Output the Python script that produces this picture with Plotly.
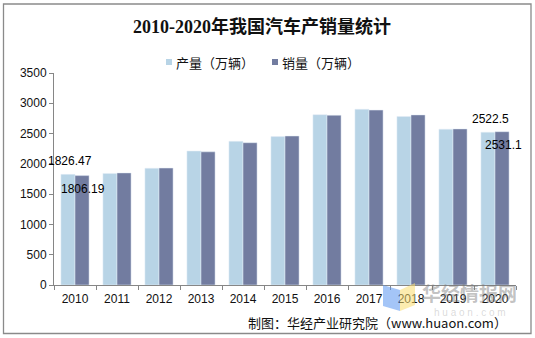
import plotly.graph_objects as go

# 2010-2020 China vehicle production and sales (10k units)
years = ["2010", "2011", "2012", "2013", "2014", "2015", "2016", "2017", "2018", "2019", "2020"]
production = [1826.47, 1841.89, 1927.18, 2211.68, 2372.29, 2450.33, 2811.88, 2901.54, 2780.92, 2572.1, 2522.5]
sales = [1806.19, 1850.51, 1930.64, 2198.41, 2349.19, 2459.76, 2802.82, 2887.89, 2808.06, 2576.9, 2531.1]
series_names = ["产量（万辆）", "销量（万辆）"]
series_colors = ["#B8D4E6", "#727CA0"]
labelled_years = ["2010", "2020"]

W, H = 535, 338
L, R, T, B = 54, 516, 73, 285  # plot area in pixels


def px(x):
    return (x - L) / (R - L)


def py(y):
    return (B - y) / (B - T)


CJK = "Noto Sans CJK SC, Liberation Sans, sans-serif"
fig = go.Figure()
for name, vals, color in zip(series_names, [production, sales], series_colors):
    fig.add_trace(go.Bar(x=years, y=vals, name=name, marker_color=color))

annotations = []
for yr in labelled_years:
    i = years.index(yr)
    # category index as x so the label sits on its group
    annotations.append(dict(x=i, y=production[i], text=f"{production[i]:g}", showarrow=False,
                            xanchor="center", yanchor="middle", xshift=-5, yshift=13,
                            font=dict(family="Liberation Sans", size=12, color="#000")))
    annotations.append(dict(x=i, y=sales[i], text=f"{sales[i]:g}", showarrow=False,
                            xanchor="center", yanchor="middle", xshift=8, yshift=-13,
                            font=dict(family="Liberation Sans", size=12, color="#000")))


def text_at(x, y, text, size, family=CJK, color="#111", anchor="center"):
    annotations.append(dict(xref="paper", yref="paper", x=px(x), y=py(y), text=text, showarrow=False,
                            xanchor=anchor, yanchor="middle", font=dict(family=family, size=size, color=color)))


# title and source
text_at(262, 27, "<b>2010-2020年我国汽车产销量统计</b>", 18, family="Liberation Serif, Noto Sans CJK SC")
text_at(509, 322, "制图：华经产业研究院（www.huaon.com）", 13, anchor="right")

# watermark
text_at(469, 292, "<b>华经情报网</b>", 19, color="rgba(120,120,120,0.45)")
text_at(470, 312, "h u a o n . c o m", 10, family="Liberation Sans", color="rgba(150,150,150,0.35)")

shapes = [
    dict(type="rect", xref="paper", yref="paper", x0=px(3.5), x1=px(531), y0=py(333.5), y1=py(4),
         line=dict(color="#8A8A8A", width=1.3), fillcolor="rgba(0,0,0,0)", layer="below"),
    dict(type="path", xref="paper", yref="paper",
         path=f"M {px(383)} {py(285)} L {px(400)} {py(290)} L {px(400)} {py(311)} L {px(383)} {py(306)} Z",
         fillcolor="rgba(90,150,240,0.55)", line=dict(width=0)),
    dict(type="path", xref="paper", yref="paper",
         path=f"M {px(400)} {py(290)} L {px(415)} {py(283)} L {px(415)} {py(305)} L {px(400)} {py(311)} Z",
         fillcolor="rgba(250,220,110,0.55)", line=dict(width=0)),
]

# legend: small colour squares followed by the series names
for x0, name, color in zip([166, 272], series_names, series_colors):
    shapes.append(dict(type="rect", xref="paper", yref="paper", x0=px(x0), x1=px(x0 + 6),
                       y0=py(65), y1=py(59), fillcolor=color, line=dict(width=0)))
    text_at(x0 + 8, 62, name, 13, anchor="left")

fig.update_layout(
    width=W, height=H,
    margin=dict(l=L, r=W - R, t=T, b=H - B, pad=0),
    paper_bgcolor="white", plot_bgcolor="white",
    barmode="group", bargap=0.33, bargroupgap=0,
    showlegend=False,
    xaxis=dict(type="category", range=[-0.5, len(years) - 0.5], showline=True, linecolor="#868686", linewidth=1,
               ticks="outside", tickson="boundaries", ticklen=4, tickcolor="#868686", ticklabelstandoff=3,
               tickfont=dict(family="Liberation Sans", size=12, color="#111"), showgrid=False),
    yaxis=dict(range=[0, 3500], dtick=500, showline=True, linecolor="#868686", linewidth=1,
               ticks="outside", ticklen=4, tickcolor="#868686", showgrid=False, zeroline=False,
               tickfont=dict(family="Liberation Sans", size=12, color="#111")),
    annotations=annotations,
    shapes=shapes,
)
fig.write_html("out.html")
